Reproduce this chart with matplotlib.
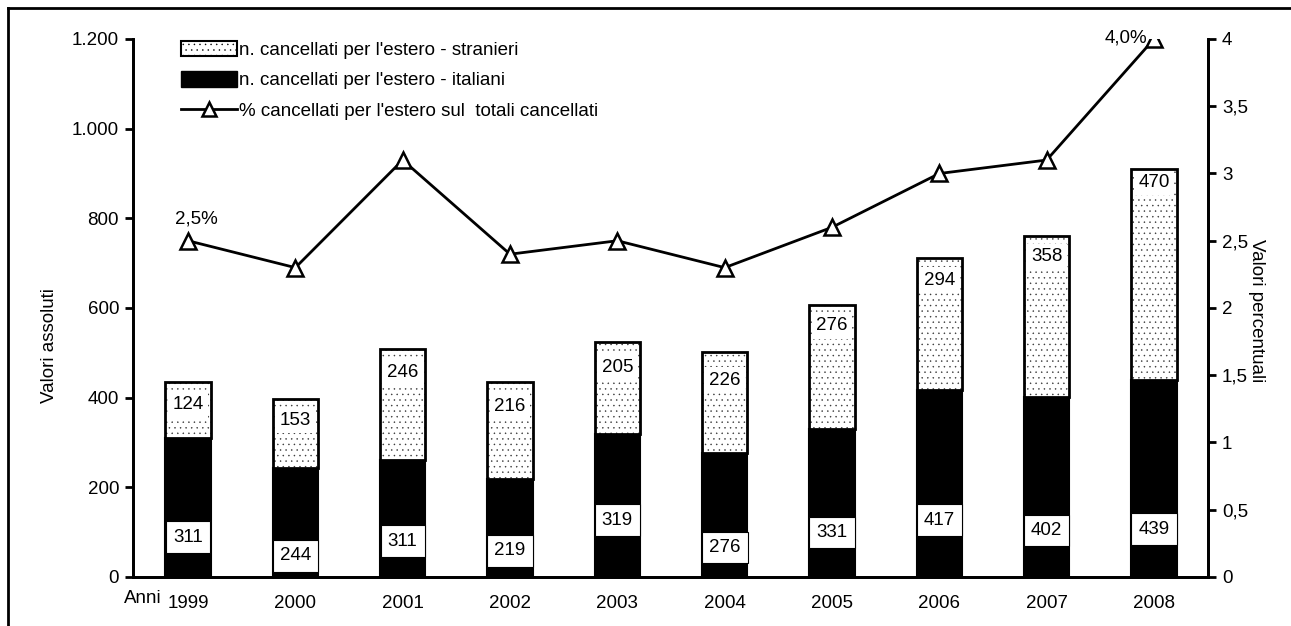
import matplotlib.pyplot as plt
from matplotlib.patches import Patch
from matplotlib.lines import Line2D

plt.rcParams['font.family'] = ['Liberation Sans', 'DejaVu Sans']
plt.rcParams['hatch.linewidth'] = 0.3

# data
anni = ['1999', '2000', '2001', '2002', '2003', '2004', '2005', '2006', '2007', '2008']
italiani = [311, 244, 262, 219, 319, 276, 331, 417, 402, 439]
stranieri = [124, 153, 246, 216, 205, 226, 276, 294, 358, 470]
perc = [2.5, 2.3, 3.1, 2.4, 2.5, 2.3, 2.6, 3.0, 3.1, 4.0]
# labels as printed (2001 label differs from bar height in the source)
lab_italiani = ['311', '244', '311', '219', '319', '276', '331', '417', '402', '439']
lab_stranieri = [str(v) for v in stranieri]

# label positions (data units) as placed in the original
pos_it = [89, 47, 80, 58, 127, 65, 100, 127, 103, 107]
pos_st = [384, 350, 457, 381, 468, 439, 560, 662, 714, 881]

fs = 13.5

fig = plt.figure(figsize=(12.91, 6.26), dpi=100)
ax = fig.add_axes([0.103, 0.0783, 0.8327, 0.8594])
ax2 = ax.twinx()

x = list(range(len(anni)))
w = 0.42

ax.bar(x, italiani, width=w, color='black', edgecolor='black', linewidth=1.5, zorder=2)
ax.bar(x, stranieri, width=w, bottom=italiani, color='white', edgecolor='#333333',
       hatch='...', linewidth=0, zorder=2)
ax.bar(x, stranieri, width=w, bottom=italiani, fill=False, edgecolor='black',
       linewidth=2, zorder=3)

for i in x:
    ax.text(i, pos_it[i], lab_italiani[i], ha='center', va='center', fontsize=fs, zorder=5,
            bbox=dict(boxstyle='square,pad=0.38', facecolor='white', edgecolor='black', linewidth=0.8))
    ax.text(i, pos_st[i], lab_stranieri[i], ha='center', va='center', fontsize=fs, zorder=2.5,
            bbox=dict(boxstyle='square,pad=0.25', facecolor='white', edgecolor='none'))

ax.set_xlim(-0.513, 9.503)
ax.set_ylim(0, 1200)
ax.set_yticks([0, 200, 400, 600, 800, 1000, 1200])
ax.set_yticklabels(['0', '200', '400', '600', '800', '1.000', '1.200'], fontsize=fs)
ax.set_xticks(x)
ax.set_xticklabels(anni, fontsize=fs)
ax.tick_params(axis='x', length=0, pad=13)
ax.tick_params(axis='y', direction='out', length=6, width=2, pad=4)
ax.set_ylabel('Valori assoluti', fontsize=fs, va='center')
ax.yaxis.set_label_coords(-0.0772, 0.43)

ax2.plot(x, perc, color='black', linewidth=2, marker='^', markersize=11,
         markerfacecolor='white', markeredgecolor='black', markeredgewidth=1.8, zorder=4)
ax2.set_ylim(0, 4)
ax2.set_yticks([0, 0.5, 1, 1.5, 2, 2.5, 3, 3.5, 4])
ax2.set_yticklabels(['0', '0,5', '1', '1,5', '2', '2,5', '3', '3,5', '4'], fontsize=fs)
ax2.tick_params(axis='y', direction='out', length=6, width=2, pad=4)
ax2.set_ylabel('Valori percentuali', fontsize=fs, rotation=-90, va='center')
ax2.yaxis.set_label_coords(1.045, 0.496)
ax2.annotate('2,5%', (0, perc[0]), xytext=(6, 16), textcoords='offset points',
             ha='center', va='center', fontsize=fs)
ax2.annotate('4,0%', (9, perc[9]), xytext=(-5, 1), textcoords='offset points',
             ha='right', va='center', fontsize=fs)

for a in (ax, ax2):
    a.spines['top'].set_visible(False)
    for s in ('left', 'right', 'bottom'):
        a.spines[s].set_linewidth(2)

ax.text(-0.597, -0.025, 'Anni', transform=ax.get_xaxis_transform(), ha='left', va='top', fontsize=fs)

handles = [Patch(facecolor='white', edgecolor='black', hatch='...', linewidth=1.5),
           Patch(facecolor='black', edgecolor='black'),
           Line2D([0], [0], color='black', linewidth=2, marker='^', markersize=10,
                  markerfacecolor='white', markeredgecolor='black', markeredgewidth=1.8)]
labels = ["n. cancellati per l'estero - stranieri",
          "n. cancellati per l'estero - italiani",
          "% cancellati per l'estero sul  totali cancellati"]
fig.legend(handles, labels, loc='upper left', bbox_to_anchor=(0.127, 0.962), frameon=False,
           fontsize=fs, handlelength=3.0, handleheight=0.9, handletextpad=0.1, labelspacing=0.65)

# outer frame (only top and left visible in the crop)
fig.add_artist(Line2D([0.0062, 1.0], [0.987, 0.987], color='black', linewidth=2,
                      transform=fig.transFigure))
fig.add_artist(Line2D([0.0062, 0.0062], [0.0, 0.987], color='black', linewidth=2,
                      transform=fig.transFigure))

fig.savefig('out.png', dpi=100)
